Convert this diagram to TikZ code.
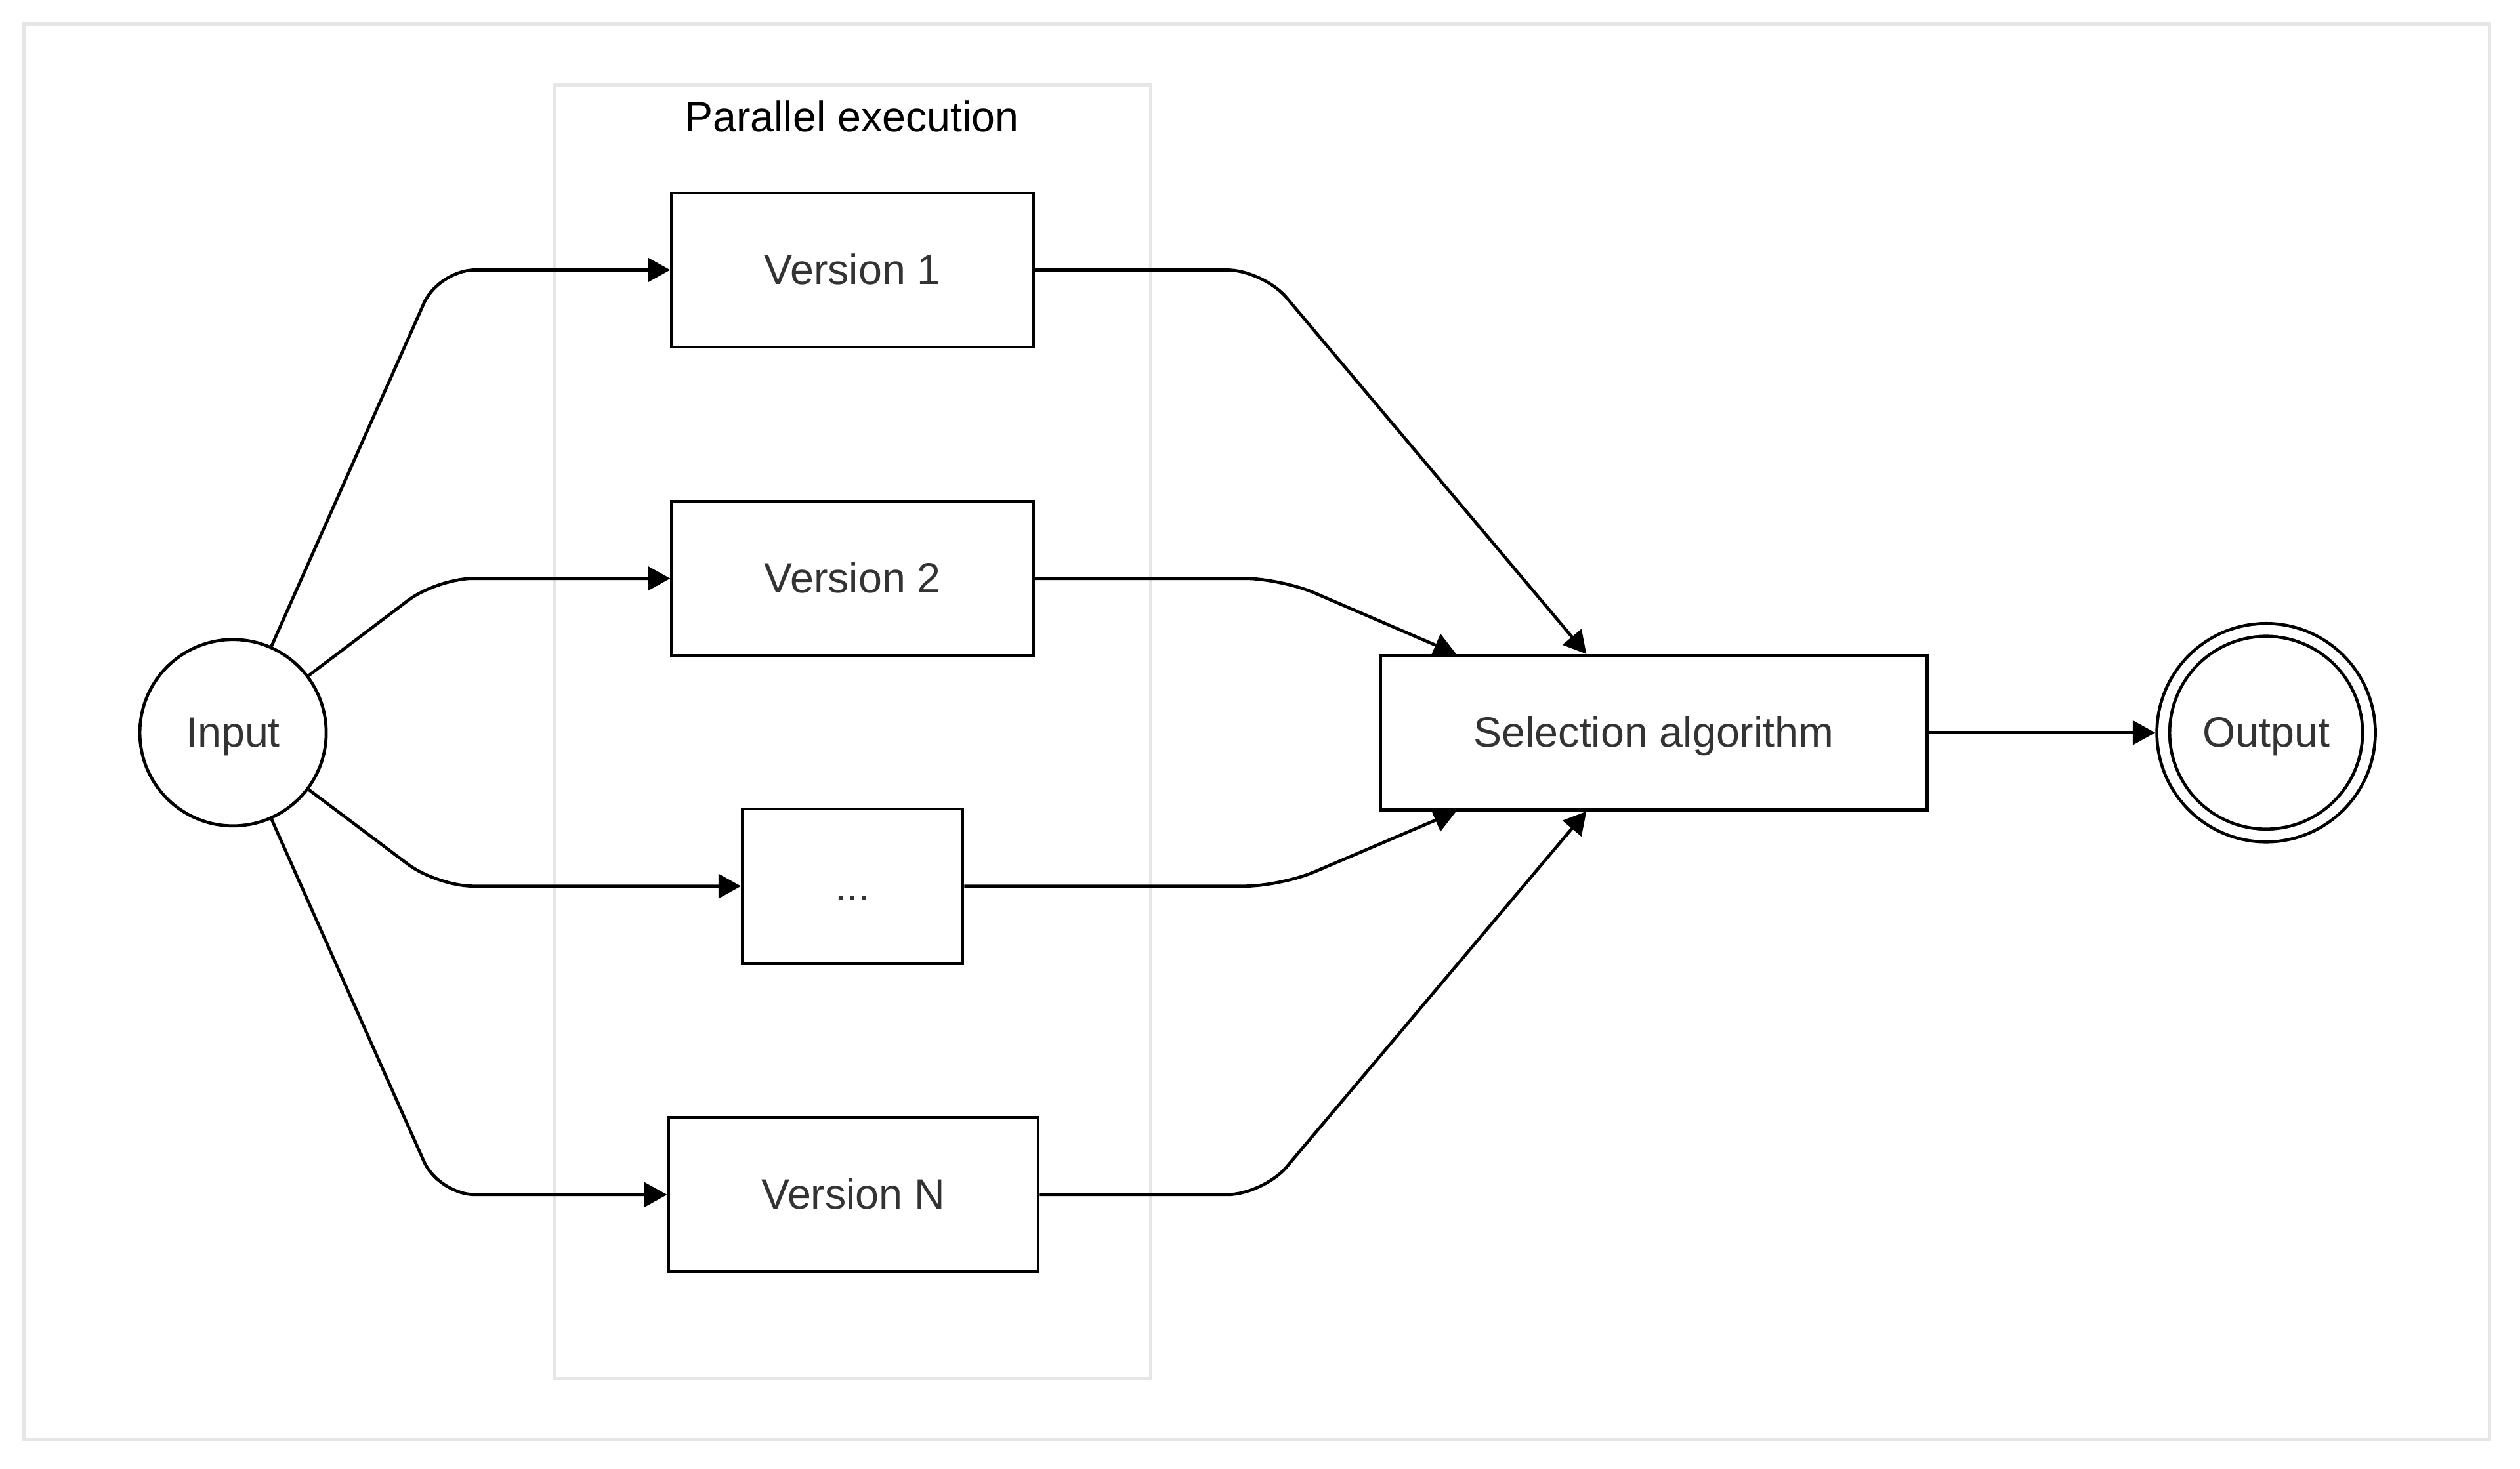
\documentclass[tikz,border=0pt]{standalone}
\usepackage{fontspec}
\setmainfont{Liberation Sans}
\usetikzlibrary{arrows.meta,calc}
\definecolor{txtgray}{HTML}{333333}
\definecolor{framegray}{HTML}{E6E6E6}

\begin{document}
\begin{tikzpicture}[x=0.02cm, y=-0.02cm, line width=1.1pt,
    every node/.style={font=\fontsize{15}{18}\selectfont, text=txtgray, inner sep=0pt,
      text height=1.02em, text depth=0pt},
    box/.style={draw=black, rectangle, minimum height=1.92cm},
    circnode/.style={draw=black, circle},
    link/.style={-{Triangle[length=0.28cm, width=0.3cm]}, rounded corners=0.45cm}]
  \useasboundingbox (0,0) rectangle (1568,914);
  \draw[framegray] (15,15) rectangle (1549,896);
  \draw[framegray] (345,53) rectangle (716,858);
  \node[text=black] (title) at (530,73) {Parallel execution};

  \node[circnode, minimum size=2.32cm] (in) at (145,456) {Input};
  \node[box, minimum width=4.5cm] (v1) at (530.5,168) {Version 1};
  \node[box, minimum width=4.5cm] (v2) at (530.5,360) {Version 2};
  \node[box, minimum width=2.74cm] (vd) at (530.5,551.5) {...};
  \node[box, minimum width=4.6cm] (vn) at (531,743.5) {Version N};
  \node[box, minimum width=6.8cm] (sel) at (1029,456) {Selection algorithm};
  \node[circnode, double, double distance=0.12cm, minimum size=2.56cm,
    outer sep=0.1cm] (out) at (1410,456) {Output};

  \draw[link] (in) -- (273,168) -- (v1.west);
  \draw[link] (in) -- (272,360) -- (v2.west);
  \draw[link] (in) -- (272,551.5) -- (vd.west);
  \draw[link] (in) -- (273,743.5) -- (vn.west);

  \draw[link] (v1.east) -- (786,168) -- ($(sel.north west)+(129,0)$);
  \draw[link] (v2.east) -- (797,360) -- ($(sel.north west)+(48,0)$);
  \draw[link] (vd.east) -- (797,551.5) -- ($(sel.south west)+(48,0)$);
  \draw[link] (vn.east) -- (786,743.5) -- ($(sel.south west)+(129,0)$);

  \draw[link] (sel) -- (out);
\end{tikzpicture}
\end{document}
